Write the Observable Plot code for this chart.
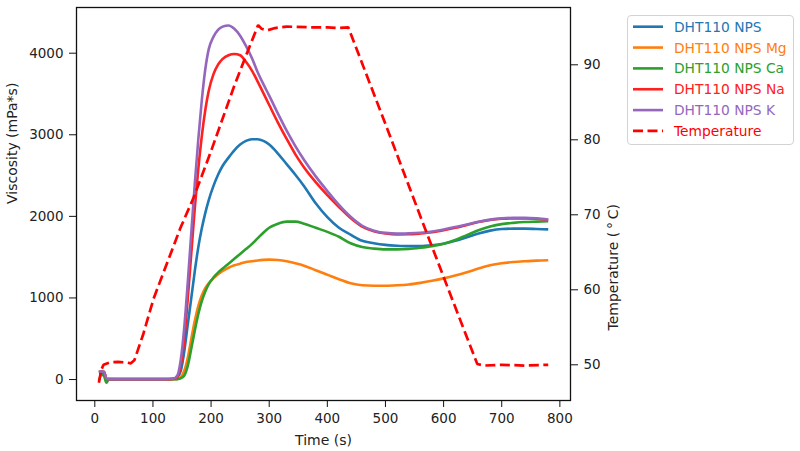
<!DOCTYPE html>
<html>
<head>
<meta charset="utf-8">
<script src="https://cdn.jsdelivr.net/npm/d3@7"></script>
<script src="https://cdn.jsdelivr.net/npm/@observablehq/plot@0.6"></script>
<style>
  body { margin: 0; background: #fff; font-family: "DejaVu Sans", sans-serif; }
  #chart { position: relative; width: 800px; height: 451px; }
  #legend { position: absolute; left: 627px; top: 15px; width: 165px; height: 128px;
            border: 1px solid #d3d3d3; border-radius: 4px; background: rgba(255,255,255,0.85); }
  #legend svg { display: block; }
</style>
</head>
<body>
<div id="chart"></div>
<script>
// Time axis shared by the viscosity curves (s)
const visTime = [7, 12, 16, 20, 24, 40, 80, 120, 135, 142, 148, 154, 160, 166, 172, 178, 184, 190, 196,
  204, 212, 220, 230, 240, 250, 260, 270, 280, 290, 300, 315, 330, 345, 360, 380, 400, 420, 440,
  460, 480, 500, 520, 540, 560, 580, 600, 620, 640, 660, 680, 700, 720, 740, 760, 780];

// Viscosity (mPa*s) of each sample
const npsBase = [80, 85, 80, 8, 5, 5, 5, 5, 8, 30, 110, 350, 680, 1000, 1330, 1620, 1850, 2040, 2200,
  2370, 2510, 2620, 2720, 2810, 2880, 2925, 2945, 2945, 2925, 2880, 2770, 2640, 2510, 2370, 2160, 1990, 1860, 1775,
  1700, 1670, 1650, 1640, 1635, 1635, 1645, 1665, 1700, 1745, 1790, 1825, 1845, 1850, 1850, 1845, 1840];
const npsMg = [95, 100, 95, 10, 5, 3, 3, 3, 3, 8, 30, 110, 270, 500, 720, 900, 1030, 1120, 1180,
  1240, 1290, 1330, 1370, 1400, 1420, 1440, 1450, 1460, 1467, 1470, 1465, 1450, 1425, 1395, 1340, 1285, 1230, 1180,
  1155, 1150, 1150, 1155, 1165, 1185, 1210, 1240, 1275, 1315, 1360, 1400, 1425, 1440, 1450, 1458, 1462];
const npsCa = [-15, 60, 40, -40, 0, 3, 3, 3, 3, 5, 15, 50, 170, 380, 600, 800, 960, 1080, 1170,
  1250, 1310, 1360, 1420, 1480, 1540, 1600, 1660, 1730, 1800, 1860, 1910, 1935, 1935, 1910, 1860, 1810, 1750, 1670,
  1625, 1605, 1595, 1595, 1600, 1615, 1635, 1665, 1710, 1770, 1830, 1875, 1905, 1920, 1930, 1935, 1940];
const npsNa = [90, 95, 90, 10, 5, 5, 5, 5, 8, 30, 180, 500, 1000, 1550, 2100, 2580, 2980, 3300, 3540,
  3740, 3860, 3930, 3975, 3990, 3975, 3895, 3790, 3655, 3510, 3365, 3150, 2950, 2760, 2600, 2420, 2260, 2115, 1980,
  1875, 1818, 1790, 1778, 1780, 1790, 1805, 1830, 1860, 1895, 1930, 1955, 1970, 1975, 1975, 1970, 1955];
const npsK = [95, 100, 95, 10, 5, 5, 5, 5, 10, 50, 250, 650, 1200, 1800, 2400, 2940, 3420, 3800, 4050,
  4200, 4285, 4325, 4340, 4300, 4215, 4090, 3945, 3770, 3620, 3480, 3260, 3050, 2860, 2690, 2490, 2310, 2140, 1995,
  1885, 1825, 1798, 1788, 1792, 1800, 1815, 1840, 1870, 1900, 1935, 1960, 1975, 1982, 1982, 1975, 1960];

// Temperature profile (s, °C)
const tempTime = [7, 11, 15, 25, 40, 55, 62, 68, 83, 101, 125, 147, 170, 200, 239, 260, 281, 287, 297,
  310, 330, 370, 400, 420, 436, 500, 560, 609, 658, 670, 700, 740, 780];
const tempVal = [47.6, 49.3, 50.0, 50.3, 50.4, 50.3, 50.2, 50.6, 54.0, 58.8, 63.7, 68.2, 72.3, 78.5, 87.0, 91.2, 95.3, 94.8, 94.6,
  94.9, 95.1, 95.0, 95.0, 94.9, 95.0, 82.1, 69.8, 59.9, 50.1, 49.9, 50.0, 49.9, 50.0];

const seriesNames = ["DHT110 NPS", "DHT110 NPS Mg", "DHT110 NPS Ca", "DHT110 NPS Na", "DHT110 NPS K", "Temperature"];
const seriesColors = ["#1f77b4", "#ff7f0e", "#2ca02c", "#ff2020", "#9467bd", "#ff0000"];
const viscSeries = [npsBase, npsMg, npsCa, npsNa, npsK];

const xTicks = [0, 100, 200, 300, 400, 500, 600, 700, 800];
const viscTicks = [0, 1000, 2000, 3000, 4000];
const tempTicks = [50, 60, 70, 80, 90];

const xDomain = [-31.5, 818.3];
const viscDomain = [-257, 4560];
const tempDomain = [45.24, 97.64];

// Twin axis: temperature is placed on the viscosity scale
const twin = d3.scaleLinear().domain(tempDomain).range(viscDomain);

const lineData = viscSeries.map(vals => visTime.map((t, i) => ({t, v: vals[i]})));
const tempData = tempTime.map((t, i) => ({t, v: twin(tempVal[i])}));

const W = 800, H = 451;
const plot = Plot.plot({
  width: W, height: H,
  marginLeft: 76, marginRight: 230, marginTop: 7, marginBottom: 51,
  style: {fontFamily: "DejaVu Sans, sans-serif", fontSize: "13.5px", color: "#222", background: "transparent"},
  x: {domain: xDomain},
  y: {domain: viscDomain},
  marks: [
    ...lineData.map((d, k) => Plot.line(d, {x: "t", y: "v", stroke: seriesColors[k], strokeWidth: 2.6,
      curve: "monotone-x", strokeLinecap: "butt"})),
    Plot.line(tempData, {x: "t", y: "v", stroke: seriesColors[5], strokeWidth: 2.7,
      strokeDasharray: "10,4.5", strokeLinecap: "butt", strokeLinejoin: "miter"}),
    Plot.frame({stroke: "#111", strokeWidth: 1.3}),
    Plot.axisX(xTicks, {anchor: "bottom", tickSize: 7, tickPadding: 6, label: null, stroke: "#111",
      tickFormat: d => String(d)}),
    Plot.axisY(viscTicks, {anchor: "left", tickSize: 7, tickPadding: 6, label: null, stroke: "#111",
      tickFormat: d => String(d)}),
    Plot.axisY(tempTicks.map(twin), {anchor: "right", tickSize: 7, tickPadding: 6, label: null, stroke: "#111",
      tickFormat: d => String(Math.round(twin.invert(d)))}),
    Plot.text(["Time (s)"], {frameAnchor: "bottom", dy: 40, fontSize: 14, fill: "#222", lineAnchor: "middle"}),
    Plot.text(["Viscosity (mPa*s)"], {frameAnchor: "left", dx: -63.5, rotate: -90, fontSize: 14, fill: "#222", lineAnchor: "middle"}),
    Plot.text(["Temperature (\u2009°\u2009C)"], {frameAnchor: "right", dx: 43, rotate: -90, fontSize: 14, fill: "#222", lineAnchor: "middle"})
  ]
});
const chart = document.getElementById("chart");
chart.appendChild(plot);

// Legend box with line handles and coloured labels
const legend = d3.select(chart).append("div").attr("id", "legend");
const lsvg = legend.append("svg").attr("width", 165).attr("height", 128);
seriesNames.forEach((name, i) => {
  const y = 10.7 + i * 20.85;
  lsvg.append("line").attr("x1", 5).attr("x2", 35).attr("y1", y).attr("y2", y)
    .attr("stroke", seriesColors[i]).attr("stroke-width", i === 5 ? 2.7 : 2.6)
    .attr("stroke-dasharray", i === 5 ? "10,4.5" : null);
  lsvg.append("text").attr("x", 46).attr("y", y).attr("dy", "0.36em")
    .attr("fill", seriesColors[i]).attr("font-size", "13.8px")
    .attr("font-family", "DejaVu Sans, sans-serif").text(name);
});
</script>
</body>
</html>
